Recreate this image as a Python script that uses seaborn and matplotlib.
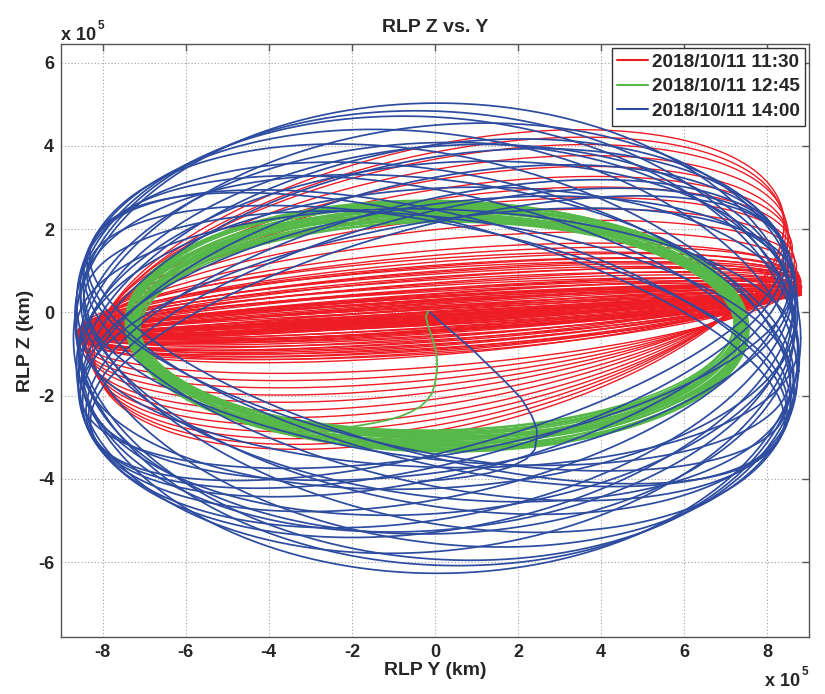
import numpy as np
import pandas as pd
import matplotlib
matplotlib.use("Agg")
import matplotlib.pyplot as plt
from matplotlib.lines import Line2D
import seaborn as sns

# ---------------- data (units of 1e5 km) ----------------
series_names = ["2018/10/11 11:30", "2018/10/11 12:45", "2018/10/11 14:00"]
series_colors = ["#EE1C25", "#55B848", "#2D4C9F"]

# blue (14:00) revolutions: rotated ellipses
blue_center = [0.05, -0.62]
blue_major = [8.75, 8.6, 8.62, 8.66, 8.64, 8.7, 8.68, 8.72, 8.58, 8.74, 8.7, 8.6, 8.74,
              8.72, 8.56, 8.66, 8.74, 8.62, 8.7, 8.6, 8.68, 8.62, 8.66, 8.7, 8.64, 8.58]
blue_minor = [5.65, 2.7, 2.8, 3.3, 3.0, 3.8, 3.5, 4.3, 2.75, 4.6, 4.0, 3.2, 4.9,
              5.1, 2.9, 4.2, 5.3, 3.6, 5.45, 4.7, 3.1, 3.0, 4.4, 2.8, 3.8, 4.6]
blue_tilt = [0.00, 0.26, -0.26, 0.24, -0.24, 0.22, -0.22, 0.20, -0.20, 0.18, -0.18, 0.15, -0.15,
             0.12, -0.12, 0.09, -0.09, 0.06, -0.06, 0.03, -0.03, 0.25, -0.21, 0.17, -0.13, 0.10]

# red (11:30) revolutions: sheared ellipses (dense thin core + wider arcs)
red_center_y = 0.1
red_major = [8.7, 8.7, 8.68, 8.7, 8.72, 8.7, 8.68, 8.7, 8.7, 8.72, 8.68, 8.7, 8.7, 8.68, 8.7,
             8.7, 8.66, 8.7, 8.68, 8.66, 8.65, 8.7, 8.72, 8.7, 8.68, 8.7, 8.66, 8.68, 8.66, 8.65,
             8.7, 8.72, 8.69, 8.71, 8.7, 8.68, 8.7, 8.72, 8.69, 8.7, 8.71, 8.68, 8.7, 8.69, 8.7,
             8.65, 8.6, 8.6, 8.55, 8.5, 8.5, 8.45, 8.4, 8.4, 8.35, 8.3, 8.3]
red_offset = [-0.05, -0.04, -0.03, -0.02, -0.01, 0.0, 0.01, 0.02, 0.03, 0.04, 0.05, 0.06, 0.07,
              0.08, 0.09, 0.1, 0.11, 0.12, 0.14, 0.16, 0.18, -0.04, -0.02, 0.0, 0.02, 0.04, 0.06,
              0.08, 0.1, 0.12,
              -0.06, -0.05, -0.04, -0.03, -0.02, -0.01, 0.0, 0.01, 0.02, 0.03, 0.04, -0.05,
              -0.02, 0.01, 0.05,
              0.1, 0.15, 0.2, 0.25, 0.3, 0.33, 0.37, 0.4, 0.45, 0.5, 0.52, 0.55]
red_slope = [0.52, 0.48, 0.56, 0.5, 0.6, 0.45, 0.55, 0.62, 0.47, 0.58, 0.5, 0.64, 0.53, 0.6,
             0.57, 0.66, 0.55, 0.62, 0.68, 0.6, 0.7, 0.5, 0.44, 0.58, 0.52, 0.6, 0.56, 0.66,
             0.62, 0.64,
             0.5, 0.54, 0.58, 0.46, 0.62, 0.52, 0.56, 0.6, 0.48, 0.55, 0.5, 0.57, 0.53, 0.59,
             0.51,
             0.7, 0.8, 0.9, 1.0, 1.1, 1.2, 1.28, 1.35, 1.42, 1.5, 1.55, 1.58]
red_width = [0.0, 0.06, 0.12, 0.18, 0.24, 0.3, 0.36, 0.42, 0.48, 0.54, 0.6, 0.66, 0.72, 0.78,
             0.84, 0.9, 0.96, 1.02, 1.08, 1.14, 1.2, 0.03, 0.15, 0.27, 0.39, 0.51, 0.63, 0.75,
             0.87, 0.99,
             0.02, 0.05, 0.08, 0.11, 0.14, 0.17, 0.2, 0.23, 0.26, 0.29, 0.33, 0.37, 0.41, 0.45,
             0.5,
             1.4, 1.6, 1.8, 2.0, 2.2, 2.4, 2.6, 2.8, 3.0, 3.2, 3.35, 3.5]

# green (12:45) revolutions
green_center = [0.05, -0.33]
green_major = [7.15, 7.5, 7.2, 7.45, 7.25, 7.4, 7.3, 7.35, 7.18, 7.48, 7.22, 7.42, 7.28, 7.38,
               7.32, 7.16, 7.46, 7.24, 7.36, 7.3, 7.2, 7.44, 7.26, 7.34, 7.4, 7.22, 7.3, 7.48]
green_minor = [2.5, 3.02, 2.55, 2.98, 2.6, 2.93, 2.66, 2.88, 2.72, 2.84, 2.78, 2.52, 2.96, 2.62,
               2.9, 2.58, 3.0, 2.7, 2.82, 2.75, 2.64, 2.95, 2.68, 2.86, 2.8, 2.56, 2.74, 2.99]
green_slope = [0.1, -0.1, 0.05, -0.05, 0.12, -0.12, 0.0, 0.08, -0.08, 0.03, -0.03, 0.14, -0.14,
               0.06, -0.06, 0.1, -0.1, 0.02, -0.02, 0.09, -0.09, 0.04, -0.04, 0.11, -0.11, 0.0,
               0.07, -0.07]

# transfer legs from the departure point
green_transfer_y = [-0.17, -0.22, -0.16, -0.07, 0.02, 0.05, 0.05, 0.0, -0.07, -0.2, -0.36,
                    -0.6, -0.84, -1.15, -1.49, -1.77, -2.04, -2.3]
green_transfer_z = [0.03, -0.1, -0.35, -0.59, -0.9, -1.14, -1.4, -1.7, -1.94, -2.12, -2.27,
                    -2.4, -2.5, -2.59, -2.66, -2.71, -2.75, -2.79]
blue_transfer_y = [-0.12, 0.1, 0.36, 0.63, 0.91, 1.15, 1.4, 1.65, 1.88, 2.07, 2.2, 2.32, 2.4,
                   2.45, 2.45, 2.4, 2.2, 1.8, 1.3, 0.77, 0.2, -0.4]
blue_transfer_z = [0.0, -0.2, -0.42, -0.66, -0.9, -1.14, -1.38, -1.62, -1.86, -2.06, -2.27,
                   -2.47, -2.66, -2.83, -2.99, -3.3, -3.52, -3.72, -3.86, -3.95, -4.02, -4.06]

# ---------------- build table ----------------
t = np.linspace(0, 2 * np.pi, 361)
frames = []

def add(series, loop, y, z):
    frames.append(pd.DataFrame({"series": series, "loop": f"{series}-{loop}", "y": y, "z": z}))

for i, (a, zc, p, q) in enumerate(zip(red_major, red_offset, red_slope, red_width)):
    add(series_names[0], i, red_center_y + a * np.cos(t), zc + p * np.cos(t) + q * np.sin(t))

for i, (a, q, p) in enumerate(zip(green_major, green_minor, green_slope)):
    add(series_names[1], i, green_center[0] + a * np.cos(t),
        green_center[1] + p * np.cos(t) + q * np.sin(t))
add(series_names[1], "transfer", np.array(green_transfer_y), np.array(green_transfer_z))

for i, (a, b, th) in enumerate(zip(blue_major, blue_minor, blue_tilt)):
    yy = blue_center[0] + a * np.cos(t) * np.cos(th) - b * np.sin(t) * np.sin(th)
    zz = blue_center[1] + a * np.cos(t) * np.sin(th) + b * np.sin(t) * np.cos(th)
    add(series_names[2], i, yy, zz)
add(series_names[2], "transfer", np.array(blue_transfer_y), np.array(blue_transfer_z))

df = pd.concat(frames, ignore_index=True)

# ---------------- plot ----------------
sns.set_style("white")
plt.rcParams["font.family"] = ["Liberation Sans", "DejaVu Sans"]
plt.rcParams["axes.unicode_minus"] = False

fig = plt.figure(figsize=(8.25, 6.94), dpi=100)
ax = fig.add_axes([61 / 825, 1 - 637 / 694, 748 / 825, 593 / 694])

widths = [1.0, 1.3, 1.25]
for name, col, lw in zip(series_names, series_colors, widths):
    sns.lineplot(data=df[df["series"] == name], x="y", y="z", units="loop", estimator=None,
                 sort=False, color=col, linewidth=lw, ax=ax, legend=False)

ax.set_xlim(-9, 9)
ax.set_ylim(-7.8, 6.45)
ax.set_xticks([-8, -6, -4, -2, 0, 2, 4, 6, 8])
ax.set_yticks([-6, -4, -2, 0, 2, 4, 6])
ax.grid(True, linestyle=(0, (1, 2)), color="#a0a0a0", linewidth=0.8)
ax.set_axisbelow(True)
ax.tick_params(direction="in", top=True, right=True, length=5, width=1, color="#555555",
               labelsize=13, pad=5)
for lab in ax.get_xticklabels() + ax.get_yticklabels():
    lab.set_fontweight("bold")
for sp in ax.spines.values():
    sp.set_color("#555555")
    sp.set_linewidth(1.0)

ax.set_xlabel("RLP Y (km)", fontsize=14, fontweight="bold", labelpad=1)
ax.set_ylabel("RLP Z (km)", fontsize=14, fontweight="bold", labelpad=3)
ax.set_title("RLP Z vs. Y", fontsize=14, fontweight="bold", pad=9)

handles = [Line2D([0], [0], color=c, lw=1.5) for c in series_colors]
leg = ax.legend(handles, series_names, loc="upper right", frameon=True,
                fancybox=False, edgecolor="#333333", framealpha=1, borderaxespad=0.2,
                handlelength=1.6, handletextpad=0.2, labelspacing=0.38, borderpad=0.3,
                prop={"weight": "bold", "size": 13.7})
leg.get_frame().set_linewidth(1.0)

# scale factor labels
fig.text(61 / 825, 1 - 40 / 694, "x 10", fontsize=13, fontweight="bold", va="baseline")
fig.text(98 / 825, 1 - 29 / 694, "5", fontsize=8.5, fontweight="bold", va="baseline")
fig.text(765 / 825, 1 - 686 / 694, "x 10", fontsize=13, fontweight="bold", va="baseline")
fig.text(802 / 825, 1 - 675 / 694, "5", fontsize=8.5, fontweight="bold", va="baseline")

fig.savefig("out.png", dpi=100)
